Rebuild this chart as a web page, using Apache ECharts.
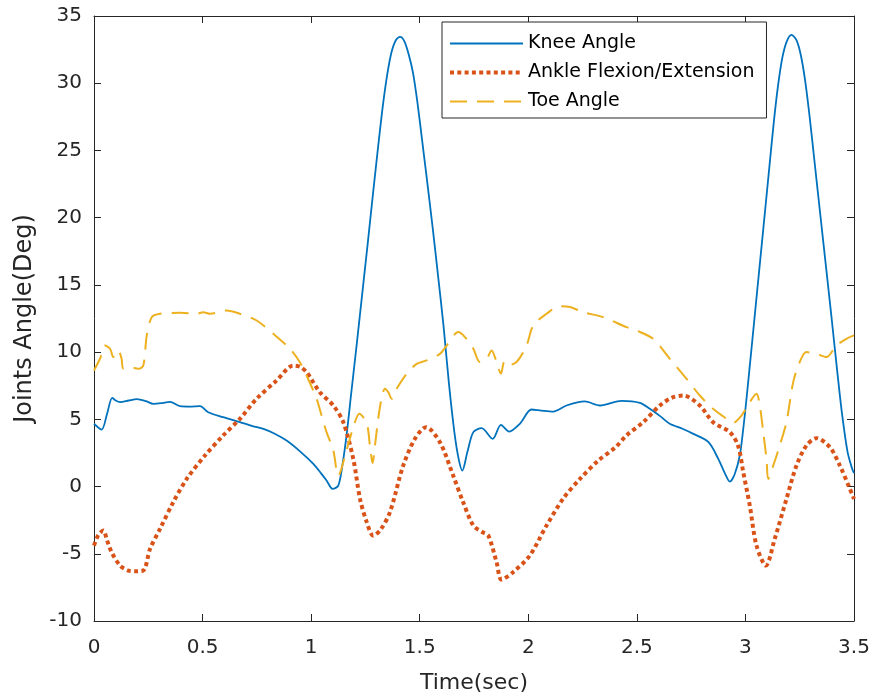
<!DOCTYPE html>
<html><head><meta charset="utf-8">
<script src="https://cdn.jsdelivr.net/npm/echarts@6/dist/echarts.min.js"></script>
<style>html,body{margin:0;padding:0;background:#fff}#c{width:877px;height:700px}</style>
</head><body><div id="c"></div>
<script>
const seriesNames = ['Knee Angle', 'Ankle Flexion/Extension', 'Toe Angle'];
const xAxisName = 'Time(sec)';
const yAxisName = 'Joints Angle(Deg)';

const kneeT = [0, 0.035, 0.06, 0.084, 0.1, 0.12, 0.16, 0.197, 0.24, 0.273, 0.31, 0.35, 0.396, 0.44, 0.488, 0.526, 0.595, 0.672, 0.73, 0.78, 0.83, 0.887, 0.95, 1.01, 1.045, 1.071, 1.099, 1.125, 1.145, 1.163, 1.185, 1.21, 1.235, 1.26, 1.285, 1.31, 1.33, 1.35, 1.37, 1.39, 1.41, 1.43, 1.45, 1.47, 1.49, 1.51, 1.535, 1.56, 1.585, 1.61, 1.635, 1.66, 1.68, 1.696, 1.72, 1.747, 1.785, 1.836, 1.874, 1.912, 1.961, 2.015, 2.06, 2.115, 2.176, 2.26, 2.33, 2.43, 2.514, 2.56, 2.61, 2.652, 2.71, 2.76, 2.83, 2.875, 2.905, 2.928, 2.95, 2.974, 2.99, 3.005, 3.03, 3.055, 3.08, 3.105, 3.13, 3.15, 3.17, 3.19, 3.212, 3.235, 3.255, 3.275, 3.295, 3.32, 3.345, 3.37, 3.395, 3.42, 3.445, 3.47, 3.49, 3.5];
const kneeV = [4.67, 4.24, 5.4, 6.6, 6.4, 6.28, 6.4, 6.5, 6.35, 6.15, 6.2, 6.3, 5.98, 5.95, 5.98, 5.53, 5.16, 4.79, 4.5, 4.29, 3.95, 3.42, 2.6, 1.69, 1.0, 0.45, -0.17, 0.07, 1.7, 3.8, 7.0, 10.6, 14.3, 18.0, 21.8, 25.5, 28.3, 30.6, 32.3, 33.2, 33.45, 33.1, 32.1, 30.7, 28.5, 25.9, 22.6, 19.2, 15.6, 11.9, 7.6, 4.0, 2.0, 1.19, 2.6, 4.05, 4.34, 3.55, 4.59, 4.09, 4.67, 5.73, 5.65, 5.58, 6.03, 6.33, 6.03, 6.38, 6.23, 5.78, 5.2, 4.67, 4.3, 3.92, 3.3, 2.06, 1.0, 0.37, 0.9, 2.31, 4.3, 6.53, 10.6, 14.7, 18.8, 22.9, 27.0, 29.8, 31.9, 33.1, 33.6, 33.2, 32.1, 30.2, 27.6, 23.9, 20.2, 16.5, 12.8, 9.0, 5.4, 2.6, 1.4, 1.0];

const ankleT = [0, 0.02, 0.043, 0.06, 0.081, 0.12, 0.158, 0.19, 0.227, 0.258, 0.304, 0.365, 0.427, 0.511, 0.595, 0.672, 0.749, 0.841, 0.918, 0.95, 0.979, 1.04, 1.102, 1.148, 1.194, 1.225, 1.255, 1.286, 1.32, 1.363, 1.424, 1.478, 1.529, 1.593, 1.654, 1.7, 1.747, 1.79, 1.816, 1.854, 1.877, 1.93, 2.007, 2.084, 2.16, 2.238, 2.322, 2.4, 2.452, 2.529, 2.606, 2.66, 2.713, 2.79, 2.851, 2.928, 2.966, 2.99, 3.02, 3.051, 3.094, 3.135, 3.189, 3.235, 3.281, 3.327, 3.389, 3.435, 3.481, 3.5];
const ankleV = [-4.39, -3.6, -3.27, -4.0, -4.88, -5.88, -6.25, -6.3, -6.25, -4.64, -3.15, -1.16, 0.57, 2.31, 3.8, 5.04, 6.53, 7.89, 9.0, 8.9, 8.51, 7.02, 6.03, 4.79, 2.06, -0.92, -2.6, -3.65, -3.2, -1.9, 1.56, 3.55, 4.42, 3.3, 0.82, -1.16, -2.9, -3.4, -3.65, -5.63, -6.92, -6.37, -5.13, -2.9, -0.92, 0.57, 1.93, 2.9, 3.8, 4.79, 6.03, 6.6, 6.77, 6.03, 4.79, 4.05, 3.05, 1.07, -1.41, -4.39, -5.88, -3.89, -0.92, 1.56, 3.05, 3.6, 2.93, 1.56, -0.17, -0.92];

const toeT = [0, 0.03, 0.05, 0.074, 0.089, 0.112, 0.127, 0.135, 0.166, 0.204, 0.227, 0.243, 0.266, 0.304, 0.396, 0.473, 0.503, 0.534, 0.611, 0.672, 0.749, 0.826, 0.902, 0.948, 0.979, 1.025, 1.048, 1.071, 1.102, 1.125, 1.163, 1.194, 1.222, 1.256, 1.271, 1.283, 1.294, 1.309, 1.324, 1.34, 1.355, 1.371, 1.394, 1.44, 1.486, 1.532, 1.593, 1.624, 1.678, 1.708, 1.747, 1.777, 1.808, 1.831, 1.854, 1.874, 1.889, 1.9, 1.946, 1.992, 2.023, 2.084, 2.146, 2.192, 2.253, 2.345, 2.452, 2.498, 2.575, 2.652, 2.729, 2.79, 2.851, 2.913, 2.944, 2.982, 3.02, 3.051, 3.066, 3.082, 3.097, 3.105, 3.128, 3.158, 3.189, 3.22, 3.25, 3.281, 3.327, 3.373, 3.419, 3.465, 3.5];
const toeV = [8.63, 9.6, 10.49, 10.25, 9.63, 10.12, 9.5, 8.76, 8.88, 8.76, 9.0, 11.24, 12.6, 12.85, 12.92, 12.85, 12.97, 12.85, 13.1, 12.85, 12.35, 11.36, 10.25, 9.25, 8.26, 6.53, 5.28, 4.05, 2.7, 0.8, 2.7, 4.4, 5.41, 4.7, 3.0, 1.75, 3.05, 5.04, 6.53, 7.27, 7.02, 6.53, 7.27, 8.39, 9.13, 9.38, 9.87, 10.49, 11.49, 11.12, 10.25, 9.26, 9.5, 10.12, 9.26, 8.39, 9.26, 9.0, 9.26, 10.49, 11.98, 12.85, 13.42, 13.35, 12.97, 12.6, 11.86, 11.61, 10.99, 9.5, 8.01, 6.77, 5.78, 5.04, 4.74, 5.28, 6.28, 6.9, 6.03, 4.05, 2.06, 0.57, 1.56, 3.05, 4.79, 7.77, 9.26, 10.0, 9.87, 9.63, 10.49, 10.99, 11.24];

const pair = (t, v) => t.map((x, i) => [x, v[i]]);
const FONT = 'DejaVu Sans';
const AX = '#262626';
const styles = [
  {color: '#0072BD', width: 1.8, type: 'solid'},
  {color: '#D95319', width: 4, type: [4, 3.3]},
  {color: '#EDB120', width: 2, type: [17, 10]}
];

const chart = echarts.init(document.getElementById('c'), null, {renderer: 'canvas'});
const axisCommon = {
  type: 'value',
  axisLine: {show: true, onZero: false, lineStyle: {color: AX, width: 1}},
  axisTick: {show: true, inside: true, length: 7, lineStyle: {color: AX, width: 1}},
  splitLine: {show: false}
};
chart.setOption({
  animation: false,
  backgroundColor: '#fff',
  grid: {left: 94, right: 23, top: 16, bottom: 79, containLabel: false},
  xAxis: [
    Object.assign({}, axisCommon, {
      min: 0, max: 3.5, interval: 0.5, position: 'bottom',
      name: xAxisName, nameLocation: 'middle', nameGap: 51,
      nameTextStyle: {fontFamily: FONT, fontSize: 22, color: AX},
      axisLabel: {show: true, margin: 17, fontFamily: FONT, fontSize: 20, color: AX}
    }),
    Object.assign({}, axisCommon, {
      min: 0, max: 3.5, interval: 0.5, position: 'top',
      axisLabel: {show: false}
    })
  ],
  yAxis: [
    Object.assign({}, axisCommon, {
      min: -10, max: 35, interval: 5, position: 'left',
      name: yAxisName, nameLocation: 'middle', nameGap: 57,
      nameTextStyle: {fontFamily: FONT, fontSize: 24, color: AX},
      axisLabel: {show: true, margin: 12, fontFamily: FONT, fontSize: 20, color: AX}
    }),
    Object.assign({}, axisCommon, {
      min: -10, max: 35, interval: 5, position: 'right',
      axisLabel: {show: false}
    })
  ],
  legend: {
    orient: 'vertical', left: 442, top: 22,
    padding: [12, 12, 7, 6],
    itemWidth: 73, itemHeight: 20, itemGap: 10,
    backgroundColor: '#fff', borderColor: AX, borderWidth: 1,
    textStyle: {fontFamily: FONT, fontSize: 19, color: '#000'},
    itemStyle: {opacity: 0},
    data: seriesNames.map((n, i) => ({
      name: n,
      itemStyle: {opacity: 0},
      lineStyle: {color: styles[i].color, width: styles[i].width, type: styles[i].type}
    }))
  },
  series: seriesNames.map((n, i) => ({
    name: n, type: 'line',
    data: [pair(kneeT, kneeV), pair(ankleT, ankleV), pair(toeT, toeV)][i],
    symbol: 'none', smooth: 0.3,
    lineStyle: {color: styles[i].color, width: styles[i].width, type: styles[i].type},
    itemStyle: {color: styles[i].color}
  }))
});
</script></body></html>
